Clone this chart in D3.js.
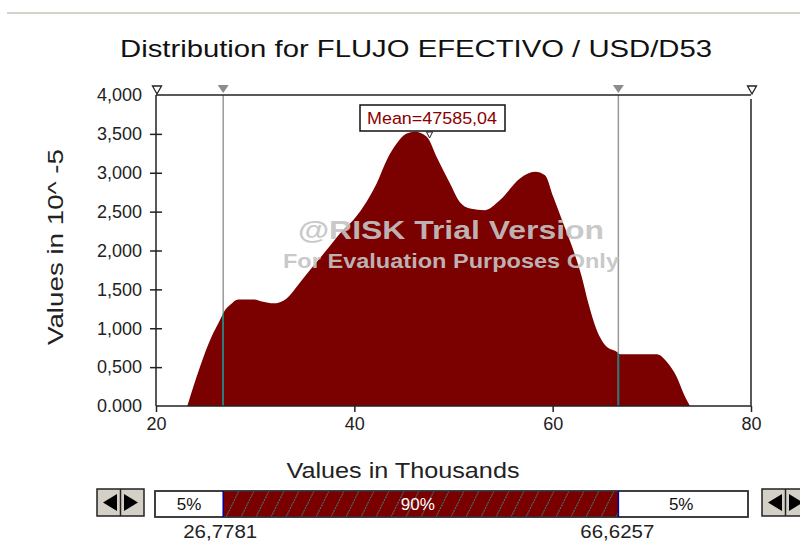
<!DOCTYPE html>
<meta charset="utf-8">
<style>
body { margin: 0; background: #fff; }
svg text { font-family: "Liberation Sans", Arial, sans-serif; }
.tick-lbl { font-size: 18px; fill: #222; }
</style>
<body>
<div id="main"></div>
<script src="https://d3js.org/d3.v7.min.js"></script>
<script>
// density curve (x in thousands, y in 10^-5)
var densX = [23.16, 24.44, 25.6, 26.45, 26.86, 27.46, 28.3, 29.8, 30.8, 31.83, 33.18, 34.19,
  35.53, 37.2, 38.55, 39.9, 40.9, 42.25, 43.26, 44.27, 45.28, 46.1, 47.3, 48.3, 49.65, 50.65,
  51.66, 53.18, 54.69, 56.7, 58.22, 59.23, 60.06, 61.07, 62.08, 62.93, 63.6, 64.44, 65.45,
  66.46, 66.8, 70.5, 71.5, 72.5, 73.35, 73.85];
var densY = [0, 505, 890, 1105, 1212, 1298, 1371, 1371, 1341, 1320, 1384, 1534,
  1748, 2005, 2220, 2391, 2562, 2862, 3162, 3376, 3505, 3526, 3462, 3204, 2862, 2620,
  2540, 2519, 2648, 2926, 3012, 2969, 2690, 2348, 2005, 1662, 1320, 977, 762,
  698, 664, 664, 569, 377, 120, 0];

var xTicks = [20, 40, 60, 80];
var yTicks = [0, 500, 1000, 1500, 2000, 2500, 3000, 3500, 4000];
var yTickLabels = ["0.000", "0,500", "1,000", "1,500", "2,000", "2,500", "3,000", "3,500", "4,000"];

var meanVal = 47.58504;
var meanLabel = "Mean=47585,04";
var lowCut = 26.7781, highCut = 66.6257;
var lowLabel = "26,7781", highLabel = "66,6257";
var pctLabels = ["5%", "90%", "5%"];

var title = "Distribution for FLUJO EFECTIVO / USD/D53";
var yTitle = "Values in 10^ -5";
var xTitle = "Values in Thousands";

var svg = d3.select("#main").append("svg").attr("width", 800).attr("height", 547);

var x = d3.scaleLinear().domain([20, 80]).range([156, 751]);
var y = d3.scaleLinear().domain([0, 4000]).range([406, 95]);

var pts = densX.map(function(d, i) { return [d, densY[i]]; });

// top separator of the window
svg.append("line").attr("x1", 7).attr("x2", 800).attr("y1", 13).attr("y2", 13)
  .attr("stroke", "#d6d2ca").attr("stroke-width", 2);

svg.append("text").attr("x", 416).attr("y", 57).attr("text-anchor", "middle")
  .attr("font-size", 24).attr("fill", "#111")
  .attr("textLength", 592).attr("lengthAdjust", "spacingAndGlyphs")
  .text(title);

var defs = svg.append("defs");
var area = d3.area().x(function(d) { return x(d[0]); }).y0(y(0)).y1(function(d) { return y(d[1]); })
  .curve(d3.curveMonotoneX);

defs.append("clipPath").attr("id", "fillclip").append("path").attr("d", area(pts));

var pat = defs.append("pattern").attr("id", "hatch").attr("patternUnits", "userSpaceOnUse")
  .attr("x", 0).attr("y", 491).attr("width", 15).attr("height", 26);
pat.append("rect").attr("width", 15).attr("height", 26).attr("fill", "#7a0000");
pat.append("line").attr("x1", 1).attr("y1", 26).attr("x2", 14).attr("y2", 0)
  .attr("stroke", "#2f8f8f").attr("stroke-width", 1).attr("stroke-dasharray", "2,1");

// density fill
svg.append("path").attr("d", area(pts)).attr("fill", "#7b0000");

// cut lines: gray above, teal inside the fill
[lowCut, highCut].forEach(function(c) {
  svg.append("line").attr("x1", x(c)).attr("x2", x(c)).attr("y1", y(4000)).attr("y2", y(0))
    .attr("stroke", "#9a9a9a").attr("stroke-width", 1.5);
  svg.append("line").attr("x1", x(c)).attr("x2", x(c)).attr("y1", y(4000)).attr("y2", y(0))
    .attr("stroke", "#138484").attr("stroke-width", 1.5).attr("clip-path", "url(#fillclip)");
});

// axes
var axisCol = "#222";
svg.append("line").attr("x1", x(20)).attr("x2", x(80)).attr("y1", y(4000)).attr("y2", y(4000))
  .attr("stroke", axisCol).attr("stroke-width", 1.5);
svg.append("line").attr("x1", x(20)).attr("x2", x(80)).attr("y1", y(0)).attr("y2", y(0))
  .attr("stroke", axisCol).attr("stroke-width", 1.5);
svg.append("line").attr("x1", x(20)).attr("x2", x(20)).attr("y1", y(4000)).attr("y2", y(0))
  .attr("stroke", axisCol).attr("stroke-width", 1.5);
svg.append("line").attr("x1", x(80)).attr("x2", x(80)).attr("y1", y(4000) + 4).attr("y2", y(0))
  .attr("stroke", axisCol).attr("stroke-width", 1.5);

var yAxis = svg.append("g").attr("transform", "translate(" + x(20) + ",0)")
  .call(d3.axisLeft(y).tickValues(yTicks).tickSize(0).tickPadding(14)
    .tickFormat(function(d, i) { return yTickLabels[i]; }));
yAxis.select(".domain").remove();
yAxis.selectAll("text").attr("class", "tick-lbl").attr("font-family", null).attr("font-size", null);
yAxis.selectAll(".tick").filter(function(d) { return d > 0 && d < 4000; })
  .append("line").attr("x1", -6).attr("x2", 6).attr("stroke", axisCol).attr("stroke-width", 1.5);

var xAxis = svg.append("g").attr("transform", "translate(0," + y(0) + ")")
  .call(d3.axisBottom(x).tickValues(xTicks).tickSize(6).tickPadding(5).tickFormat(d3.format("d")));
xAxis.select(".domain").remove();
xAxis.selectAll("line").attr("stroke", axisCol).attr("stroke-width", 1.5);
xAxis.selectAll("text").attr("class", "tick-lbl").attr("font-family", null).attr("font-size", null);

// top markers
function tri(cx, top, w, h) {
  return "M" + (cx - w / 2) + "," + top + "L" + (cx + w / 2) + "," + top + "L" + cx + "," + (top + h) + "Z";
}
[lowCut, highCut].forEach(function(c) {
  svg.append("path").attr("d", tri(x(c), 85, 11, 8)).attr("fill", "#8c8c8c");
});
[20, 80].forEach(function(c) {
  svg.append("path").attr("d", tri(x(c) + 1, 86, 9, 8)).attr("fill", "#fff")
    .attr("stroke", "#222").attr("stroke-width", 1.3);
});

// mean label
svg.append("rect").attr("x", 360).attr("y", 105).attr("width", 145).attr("height", 26)
  .attr("fill", "#fff").attr("stroke", "#111").attr("stroke-width", 1.5);
svg.append("text").attr("x", 432).attr("y", 124).attr("text-anchor", "middle")
  .attr("font-size", 16).attr("fill", "#8b0000")
  .attr("textLength", 130).attr("lengthAdjust", "spacingAndGlyphs").text(meanLabel);
svg.append("path").attr("d", tri(x(meanVal), 132, 6, 6)).attr("fill", "#fff")
  .attr("stroke", "#222").attr("stroke-width", 1);

// watermark
svg.append("text").attr("x", 451).attr("y", 239).attr("text-anchor", "middle")
  .attr("font-size", 26).attr("font-weight", "bold").attr("fill", "#c4c4c4").attr("fill-opacity", 0.92)
  .attr("textLength", 306).attr("lengthAdjust", "spacingAndGlyphs").text("@RISK Trial Version");
svg.append("text").attr("x", 451).attr("y", 268).attr("text-anchor", "middle")
  .attr("font-size", 20).attr("font-weight", "bold").attr("fill", "#c4c4c4").attr("fill-opacity", 0.92)
  .attr("textLength", 336).attr("lengthAdjust", "spacingAndGlyphs").text("For Evaluation Purposes Only");

// axis titles
svg.append("text").attr("transform", "translate(63,247) rotate(-90)").attr("text-anchor", "middle")
  .attr("font-size", 22).attr("fill", "#222")
  .attr("textLength", 196).attr("lengthAdjust", "spacingAndGlyphs").text(yTitle);
svg.append("text").attr("x", 403).attr("y", 478).attr("text-anchor", "middle")
  .attr("font-size", 22).attr("fill", "#222")
  .attr("textLength", 233).attr("lengthAdjust", "spacingAndGlyphs").text(xTitle);

// percentile bar
var barY = 491, barH = 26, barL = 155, barR = 748;
svg.append("rect").attr("x", barL).attr("y", barY).attr("width", barR - barL).attr("height", barH)
  .attr("fill", "#fff").attr("stroke", "#333").attr("stroke-width", 1.5);
svg.append("rect").attr("x", x(lowCut)).attr("y", barY).attr("width", x(highCut) - x(lowCut)).attr("height", barH)
  .attr("fill", "url(#hatch)");
svg.append("rect").attr("x", barL).attr("y", barY).attr("width", barR - barL).attr("height", barH)
  .attr("fill", "none").attr("stroke", "#333").attr("stroke-width", 1.5);
[lowCut, highCut].forEach(function(c) {
  svg.append("line").attr("x1", x(c)).attr("x2", x(c)).attr("y1", barY).attr("y2", barY + barH)
    .attr("stroke", "#0000a8").attr("stroke-width", 1.5);
});
var segCenters = [(barL + x(lowCut)) / 2, (x(lowCut) + x(highCut)) / 2 - 3, (x(highCut) + barR) / 2 - 2];
pctLabels.forEach(function(t, i) {
  svg.append("text").attr("x", segCenters[i]).attr("y", barY + 19).attr("text-anchor", "middle")
    .attr("font-size", 17).attr("fill", i === 1 ? "#fff" : "#111").text(t);
});
svg.append("text").attr("x", x(lowCut) - 3).attr("y", 538).attr("text-anchor", "middle")
  .attr("font-size", 18).attr("fill", "#222")
  .attr("textLength", 74).attr("lengthAdjust", "spacingAndGlyphs").text(lowLabel);
svg.append("text").attr("x", x(highCut) - 1).attr("y", 538).attr("text-anchor", "middle")
  .attr("font-size", 18).attr("fill", "#222")
  .attr("textLength", 74).attr("lengthAdjust", "spacingAndGlyphs").text(highLabel);

// arrow buttons
function buttons(bx) {
  var g = svg.append("g").attr("transform", "translate(" + bx + ",489)");
  g.append("rect").attr("width", 47).attr("height", 27).attr("fill", "#d4d0c8")
    .attr("stroke", "#222").attr("stroke-width", 1.5);
  g.append("line").attr("x1", 23.5).attr("x2", 23.5).attr("y1", 0).attr("y2", 27)
    .attr("stroke", "#222").attr("stroke-width", 1.5);
  g.append("path").attr("d", "M6,13.5L20,5L20,22Z").attr("fill", "#000");
  g.append("path").attr("d", "M41,13.5L27,5L27,22Z").attr("fill", "#000");
}
buttons(97);
buttons(762);
</script>
</body>
